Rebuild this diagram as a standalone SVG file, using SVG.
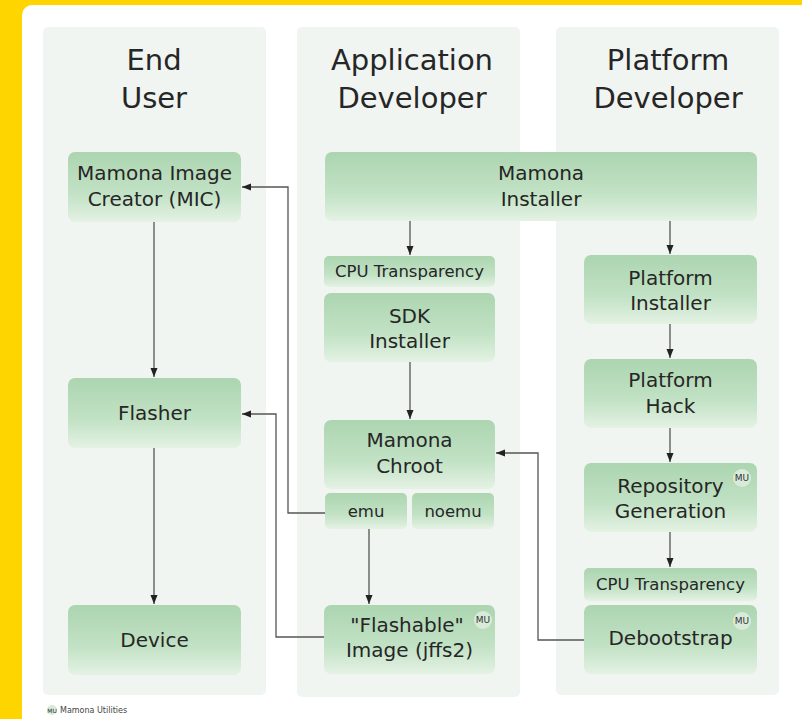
<svg xmlns="http://www.w3.org/2000/svg" width="802" height="719" viewBox="0 0 802 719">
<defs>
<linearGradient id="ng" x1="0" y1="0" x2="0" y2="1">
<stop offset="0" stop-color="#acd5b0"/>
<stop offset="0.6" stop-color="#c2e2c5"/>
<stop offset="1" stop-color="#e4f2e4"/>
</linearGradient>
<marker id="ah" markerUnits="userSpaceOnUse" markerWidth="10" markerHeight="10" viewBox="0 0 10 10" refX="9" refY="5" orient="auto">
<path d="M0,1.5 L9,5 L0,8.5 Z" fill="#222"/>
</marker>
<style>
.col{fill:#f0f5f2}
.node{fill:url(#ng)}
.t{font-family:"DejaVu Sans",sans-serif;fill:#262626;text-anchor:middle}
.title{font-size:29px}
.lbl{font-size:20px}
.sm{font-size:16.5px}
.mu{fill:#d8ebd9}
.mut{font-family:"DejaVu Sans",sans-serif;font-size:9px;fill:#333;text-anchor:middle}
.c{fill:none;stroke:#555;stroke-width:1.3}
</style>
</defs>
<rect x="0" y="0" width="802" height="719" fill="#ffd500"/>
<rect x="22" y="5" width="790" height="730" rx="10" fill="#ffffff"/>

<g id="col-enduser">
<rect class="col" x="43" y="27" width="223" height="668" rx="5"/>
<text class="t title" x="154" y="70">End</text>
<text class="t title" x="154" y="108">User</text>
</g>
<g id="col-appdev">
<rect class="col" x="297" y="27" width="223" height="670" rx="5"/>
<text class="t title" x="412" y="70">Application</text>
<text class="t title" x="412" y="108">Developer</text>
</g>
<g id="col-platdev">
<rect class="col" x="556" y="27" width="223" height="668" rx="5"/>
<text class="t title" x="668" y="70">Platform</text>
<text class="t title" x="668" y="108">Developer</text>
</g>

<g id="connectors">
<line class="c" x1="154" y1="222" x2="154" y2="377" marker-end="url(#ah)"/>
<line class="c" x1="154" y1="448" x2="154" y2="604" marker-end="url(#ah)"/>
<line class="c" x1="410" y1="221" x2="410" y2="255" marker-end="url(#ah)"/>
<line class="c" x1="410" y1="362" x2="410" y2="419" marker-end="url(#ah)"/>
<line class="c" x1="670" y1="221" x2="670" y2="254" marker-end="url(#ah)"/>
<line class="c" x1="670" y1="324" x2="670" y2="358" marker-end="url(#ah)"/>
<line class="c" x1="670" y1="428" x2="670" y2="462" marker-end="url(#ah)"/>
<line class="c" x1="670" y1="532" x2="670" y2="567" marker-end="url(#ah)"/>
<line class="c" x1="369" y1="529" x2="369" y2="604" marker-end="url(#ah)"/>
<path class="c" d="M325,513 H288 V187 H242" marker-end="url(#ah)"/>
<path class="c" d="M324,637 H276 V414 H242" marker-end="url(#ah)"/>
<path class="c" d="M584,640 H538 V453 H496" marker-end="url(#ah)"/>
</g>

<g id="mic">
<rect class="node" x="68" y="152" width="173" height="70" rx="7"/>
<text class="t lbl" x="154.5" y="180">Mamona Image</text>
<text class="t lbl" x="154.5" y="206">Creator (MIC)</text>
</g>
<g id="flasher">
<rect class="node" x="68" y="378" width="173" height="70" rx="7"/>
<text class="t lbl" x="154.5" y="420">Flasher</text>
</g>
<g id="device">
<rect class="node" x="68" y="605" width="173" height="70" rx="7"/>
<text class="t lbl" x="154.5" y="647">Device</text>
</g>
<g id="mamona-installer">
<rect class="node" x="325" y="152" width="432" height="69" rx="7"/>
<text class="t lbl" x="541" y="180">Mamona</text>
<text class="t lbl" x="541" y="206">Installer</text>
</g>
<g id="cpu-app">
<rect class="node" x="324" y="256" width="171" height="31" rx="5"/>
<text class="t sm" x="409.5" y="277">CPU Transparency</text>
</g>
<g id="sdk-installer">
<rect class="node" x="324" y="293" width="171" height="69" rx="7"/>
<text class="t lbl" x="409.5" y="323">SDK</text>
<text class="t lbl" x="409.5" y="348">Installer</text>
</g>
<g id="mamona-chroot">
<rect class="node" x="324" y="420" width="171" height="69" rx="7"/>
<text class="t lbl" x="409.5" y="447">Mamona</text>
<text class="t lbl" x="409.5" y="473">Chroot</text>
</g>
<g id="emu">
<rect class="node" x="325" y="493" width="82" height="36" rx="5"/>
<text class="t sm" x="366" y="517">emu</text>
</g>
<g id="noemu">
<rect class="node" x="412" y="493" width="82" height="36" rx="5"/>
<text class="t sm" x="453" y="517">noemu</text>
</g>
<g id="flashable">
<rect class="node" x="324" y="605" width="171" height="69" rx="7"/>
<circle class="mu" cx="483" cy="620" r="9"/>
<text class="mut" x="483" y="623">MU</text>
<text class="t lbl" x="407" y="632">"Flashable"</text>
<text class="t lbl" x="409.5" y="657">Image (jffs2)</text>
</g>
<g id="platform-installer">
<rect class="node" x="584" y="255" width="173" height="69" rx="7"/>
<text class="t lbl" x="670.5" y="285">Platform</text>
<text class="t lbl" x="670.5" y="310">Installer</text>
</g>
<g id="platform-hack">
<rect class="node" x="584" y="359" width="173" height="69" rx="7"/>
<text class="t lbl" x="670.5" y="387">Platform</text>
<text class="t lbl" x="670.5" y="413">Hack</text>
</g>
<g id="repository-generation">
<rect class="node" x="584" y="463" width="173" height="69" rx="7"/>
<circle class="mu" cx="742" cy="478" r="9"/>
<text class="mut" x="742" y="481">MU</text>
<text class="t lbl" x="670.5" y="493">Repository</text>
<text class="t lbl" x="670.5" y="518">Generation</text>
</g>
<g id="cpu-plat">
<rect class="node" x="584" y="568" width="173" height="33" rx="5"/>
<text class="t sm" x="670.5" y="590">CPU Transparency</text>
</g>
<g id="debootstrap">
<rect class="node" x="584" y="605" width="173" height="69" rx="7"/>
<circle class="mu" cx="742" cy="621" r="9"/>
<text class="mut" x="742" y="624">MU</text>
<text class="t lbl" x="670.5" y="645">Debootstrap</text>
</g>

<g id="legend">
<circle class="mu" cx="52" cy="710" r="5"/>
<text x="52" y="712.5" font-family="DejaVu Sans, sans-serif" font-size="6px" fill="#333" text-anchor="middle">MU</text>
<text x="60" y="713" font-family="DejaVu Sans, sans-serif" font-size="8px" fill="#444">Mamona Utilities</text>
</g>
</svg>
